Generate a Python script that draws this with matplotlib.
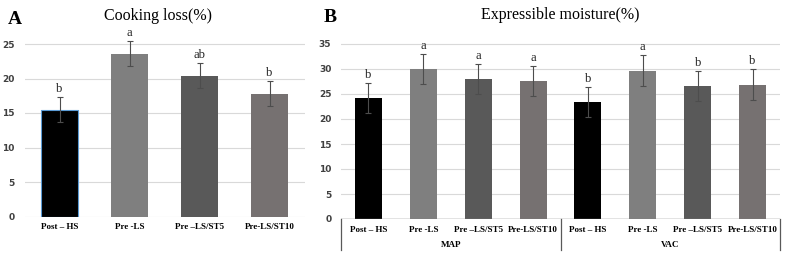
import matplotlib
matplotlib.use("Agg")
import matplotlib.pyplot as plt
import matplotlib.transforms as mtransforms
import numpy as np

# ---------------- data ----------------
treatments = ["Post – HS", "Pre -LS", "Pre –LS/ST5", "Pre-LS/ST10"]

cook_loss = [15.5, 23.6, 20.4, 17.8]
cook_err = [1.8, 1.8, 1.8, 1.8]
cook_sig = ["b", "a", "ab", "b"]

packages = ["MAP", "VAC"]
moist_map = [24.1, 29.9, 28.0, 27.5]
moist_map_err = [3.0, 3.0, 3.0, 3.0]
moist_map_sig = ["b", "a", "a", "a"]
moist_vac = [23.4, 29.6, 26.6, 26.8]
moist_vac_err = [3.0, 3.1, 3.0, 3.1]
moist_vac_sig = ["b", "a", "b", "b"]

colors = ["#000000", "#7f7f7f", "#595959", "#767171"]

W, H = 787, 257
fig = plt.figure(figsize=(W / 100, H / 100), dpi=100)

serif = ["Liberation Serif", "DejaVu Serif"]
grid_c = "#d9d9d9"
err_c = "#4d4d4d"


def style_axes(ax, yticks):
    for s in ax.spines.values():
        s.set_visible(False)
    ax.set_yticks(yticks)
    ax.tick_params(axis="y", length=0, pad=7, labelsize=6.5, labelcolor="#404040")
    for lab in ax.get_yticklabels():
        lab.set_fontweight("bold")
    ax.tick_params(axis="x", length=0, pad=5)
    for y in yticks:
        ax.axhline(y, color=grid_c, lw=0.8, zorder=0)


# ---------------- panel A ----------------
axA = fig.add_axes([24.5 / W, (H - 216.5) / H, 280 / W, 27.5 * 6.9 / H])
xA = np.arange(len(treatments))
barsA = axA.bar(xA, cook_loss, width=0.54, color=colors, zorder=2)
barsA[0].set_edgecolor("#5b9bd5")
barsA[0].set_linewidth(0.8)
axA.errorbar(xA, cook_loss, yerr=cook_err, fmt="none", ecolor=err_c,
             elinewidth=0.8, capsize=2, capthick=0.8, zorder=3)
for xi, v, e, s in zip(xA, cook_loss, cook_err, cook_sig):
    axA.annotate(s, (xi, v + e), xytext=(0, 1.5), textcoords="offset points",
                 ha="center", va="bottom", fontsize=9, family=serif, color="#222222")
axA.set_xlim(-0.5, len(treatments) - 0.5)
axA.set_ylim(0, 27.5)
style_axes(axA, np.arange(0, 26, 5))
axA.set_xticks(xA)
axA.set_xticklabels(treatments, fontsize=6.5, fontweight="bold", family=serif)
fig.text(158 / W, 1 - 16 / H, "Cooking loss(%)", ha="center", va="center",
         fontsize=11.5, family=serif)
fig.text(15 / W, 1 - 19 / H, "A", ha="center", va="center",
         fontsize=14, fontweight="bold", family=serif)

# ---------------- panel B ----------------
axB = fig.add_axes([341 / W, (H - 219) / H, 439 / W, 36.5 * 5 / H])
vals = moist_map + moist_vac
errs = moist_map_err + moist_vac_err
sigs = moist_map_sig + moist_vac_sig
labsB = treatments * len(packages)
xB = np.arange(len(vals))
axB.bar(xB, vals, width=0.49, color=colors * len(packages), zorder=2)
axB.errorbar(xB, vals, yerr=errs, fmt="none", ecolor=err_c,
             elinewidth=0.8, capsize=2, capthick=0.8, zorder=3)
for xi, v, e, s in zip(xB, vals, errs, sigs):
    axB.annotate(s, (xi, v + e), xytext=(0, 1.5), textcoords="offset points",
                 ha="center", va="bottom", fontsize=9, family=serif, color="#222222")
axB.set_xlim(-0.5, len(vals) - 0.5)
axB.set_ylim(0, 36.5)
style_axes(axB, np.arange(0, 36, 5))
axB.axhline(0, color="#7f7f7f", lw=1.0, zorder=4)
axB.set_xticks(xB)
axB.set_xticklabels(labsB, fontsize=6.5, fontweight="bold", family=serif)

trans = mtransforms.blended_transform_factory(axB.transData, axB.transAxes)
n = len(treatments)
for k in range(len(packages) + 1):
    xd = k * n - 0.5
    axB.plot([xd, xd], [0, -0.17], transform=trans, color="#595959",
             lw=0.9, clip_on=False)
for k, p in enumerate(packages):
    axB.text(k * n + (n - 1) / 2, -0.142, p, transform=trans, ha="center",
             va="center", fontsize=6.5, fontweight="bold", family=serif)

fig.text(560 / W, 1 - 15 / H, "Expressible moisture(%)", ha="center",
         va="center", fontsize=11.5, family=serif)
fig.text(330 / W, 1 - 17 / H, "B", ha="center", va="center",
         fontsize=14, fontweight="bold", family=serif)

fig.savefig("out.png", dpi=100)
